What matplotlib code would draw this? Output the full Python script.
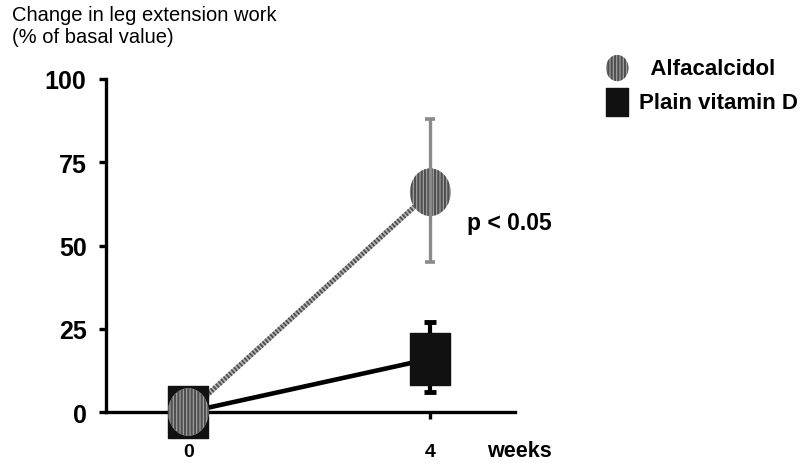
import numpy as np
import matplotlib
matplotlib.use("Agg")
import matplotlib.pyplot as plt
from matplotlib.path import Path
from matplotlib.transforms import Affine2D

plt.rcParams["font.family"] = ["Liberation Sans", "DejaVu Sans"]
plt.rcParams["hatch.linewidth"] = 1.6

weeks = [0, 4]
alfa = [0, 66]
alfa_err_low = [0, 21]
alfa_err_high = [0, 22]
plain = [0, 16]
plain_err_low = [0, 10]
plain_err_high = [0, 11]
yticks = [0, 25, 50, 75, 100]

# marker shapes: slightly tall ellipse and tall rectangle
ellipse = Path.unit_circle().transformed(Affine2D().scale(1.0, 1.17))
rect = Path([(-1, -1.25), (1, -1.25), (1, 1.25), (-1, 1.25), (-1, -1.25)],
            [Path.MOVETO, Path.LINETO, Path.LINETO, Path.LINETO, Path.CLOSEPOLY])

fig = plt.figure(figsize=(8.05, 4.64), dpi=100)
ax = fig.add_axes([106 / 805, 14 / 464, 409 / 805, 380 / 464])
ax.set_xlim(-1.36, 5.4)
ax.set_ylim(-11.1, 103)

# lines
ax.plot(weeks, plain, color="black", lw=3.3, zorder=2, solid_capstyle="butt")
ax.plot(weeks, alfa, color="#b5b5b5", lw=3.6, zorder=2.5, solid_capstyle="butt")
ax.plot(weeks, alfa, color="#4d4d4d", lw=3.6, zorder=2.6, dashes=(0.35, 0.35),
        dash_capstyle="butt")

# error bars (week 4 only)
ax.errorbar(weeks[1:], plain[1:], yerr=[plain_err_low[1:], plain_err_high[1:]],
            fmt="none", ecolor="black", elinewidth=3, capsize=4, capthick=3.5, zorder=2)

sq = ax.scatter(weeks, plain, marker=rect, s=1350, color="#111111", zorder=3)
ci = ax.scatter(weeks, alfa, marker=ellipse, s=1180, facecolor="#a6a6a6",
                edgecolor="#505050", linewidths=0, hatch="|||||", zorder=4)

ax.errorbar(weeks[1:], alfa[1:], yerr=[alfa_err_low[1:], alfa_err_high[1:]],
            fmt="none", ecolor="#8a8a8a", elinewidth=2.4, capsize=3.5, capthick=2.6, zorder=5)

# axes styling
for s in ["top", "right"]:
    ax.spines[s].set_visible(False)
ax.spines["bottom"].set_position(("data", 0))
ax.spines["left"].set_bounds(0, 100)
ax.spines["left"].set_linewidth(2.4)
ax.spines["bottom"].set_linewidth(2.4)
ax.spines["bottom"].set_zorder(1)

ax.set_yticks(yticks)
ax.set_yticklabels([str(v) for v in yticks], fontsize=18, fontweight="bold")
ax.tick_params(axis="y", direction="out", length=5, width=2.4, pad=9)
ax.set_xticks(weeks)
ax.set_xticklabels([str(w) for w in weeks], fontsize=14, fontweight="bold")
ax.tick_params(axis="x", direction="out", length=5, width=2.4, pad=17)

ax.text(4.61, 57, "p < 0.05", fontsize=16.5, fontweight="bold", va="center", ha="left")
fig.text(487 / 805, 1 - 452 / 464, "weeks", fontsize=15.5, fontweight="bold", va="center")

fig.text(12 / 805, 1 - 6 / 464, "Change in leg extension work\n(% of basal value)",
         fontsize=14.5, va="top", ha="left", linespacing=1.2)

leg = ax.legend([ci, sq], ["  Alfacalcidol", "Plain vitamin D"], loc="upper left",
                bbox_to_anchor=(595 / 805, 1 - 50 / 464), bbox_transform=fig.transFigure,
                frameon=False, scatterpoints=1, markerscale=0.55, handletextpad=0.4,
                labelspacing=0.6, handlelength=1.2, borderaxespad=0,
                prop={"size": 16, "weight": "bold"})

fig.savefig("out.png", dpi=100)
